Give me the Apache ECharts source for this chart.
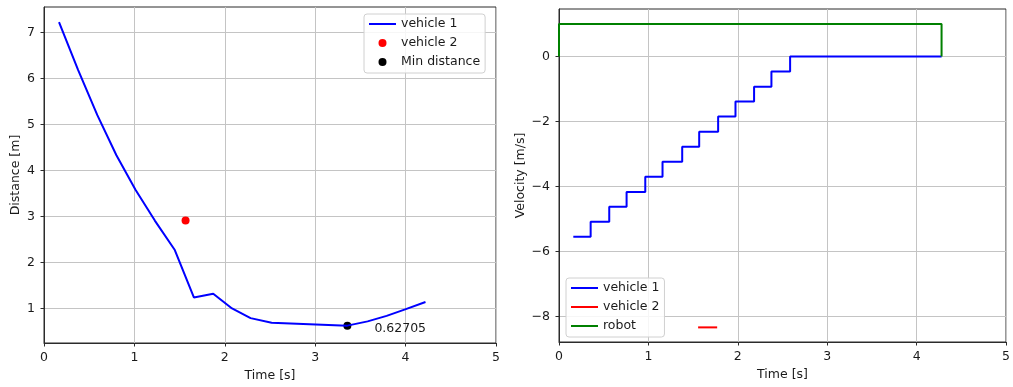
<!DOCTYPE html>
<html>
<head>
<meta charset="utf-8">
<script src="https://cdn.jsdelivr.net/npm/echarts@6/dist/echarts.min.js"></script>
<style>
  html, body { margin: 0; padding: 0; background: #fff; }
  #chart { width: 1013px; height: 387px; }
</style>
</head>
<body>
<div id="chart"></div>
<script>
// Distance between vehicle 1 and the robot over time
const distTime  = [0.166, 0.378, 0.590, 0.801, 1.012, 1.226, 1.447, 1.658, 1.872, 2.080, 2.285, 2.518, 3.356, 3.580, 3.790, 3.995, 4.220];
const distValue = [7.22, 6.18, 5.20, 4.33, 3.58, 2.91, 2.27, 1.24, 1.32, 1.00, 0.79, 0.69, 0.62705, 0.72, 0.84, 0.98, 1.14];
const vehicle2Dist = [1.566, 2.91];
const minDist = [3.356, 0.62705];

// Velocity profiles
const velTime  = [0.160, 0.354, 0.562, 0.756, 0.965, 1.158, 1.378, 1.568, 1.780, 1.974, 2.182, 2.376, 2.585, 2.767, 4.279];
const velValue = [-5.55, -5.09, -4.63, -4.17, -3.70, -3.24, -2.78, -2.32, -1.85, -1.39, -0.93, -0.46, 0, 0, 0];
const vehicle2VelTime  = [1.556, 1.769];
const vehicle2VelValue = [-8.34, -8.34];
const robotVelTime  = [0, 0, 4.279, 4.279];
const robotVelValue = [0, 1, 1, 0];

const xTicks = [0, 1, 2, 3, 4, 5];
const distTicks = [1, 2, 3, 4, 5, 6, 7];
const velTicks = [-8, -6, -4, -2, 0];

const zip = (xs, ys) => xs.map((x, i) => [x, ys[i]]);

const FONT = 'DejaVu Sans';
const FS = 12.5;
const TXT = '#1a1a1a';
const SPINE = '#2b2b2b';
const GRIDC = '#c4c4c4';

function xAxisFor(gridIndex) {
  return {
    gridIndex, type: 'value', min: 0, max: 5, interval: 1,
    name: 'Time [s]', nameLocation: 'middle', nameGap: 25,
    nameTextStyle: { color: TXT, fontSize: FS, fontFamily: FONT },
    axisLine: { show: true, onZero: false, lineStyle: { color: SPINE, width: 1 } },
    axisTick: { show: true, length: 3.5, customValues: xTicks, lineStyle: { color: SPINE } },
    axisLabel: { color: TXT, fontSize: FS, fontFamily: FONT, margin: 8, customValues: xTicks },
    splitLine: { show: true, lineStyle: { color: GRIDC, width: 1 } }
  };
}

function yAxisFor(gridIndex, min, max, ticks, name, gap, minus) {
  return {
    gridIndex, type: 'value', min, max,
    name, nameLocation: 'middle', nameGap: gap,
    nameTextStyle: { color: TXT, fontSize: FS, fontFamily: FONT },
    axisLine: { show: true, onZero: false, lineStyle: { color: SPINE, width: 1 } },
    axisTick: { show: true, length: 3.5, customValues: ticks, lineStyle: { color: SPINE } },
    axisLabel: {
      color: TXT, fontSize: FS, fontFamily: FONT, margin: 9, customValues: ticks,
      formatter: v => minus ? String(v).replace('-', '\u2212') : String(v)
    },
    splitLine: { show: true, lineStyle: { color: GRIDC, width: 1 } }
  };
}

const legendBase = {
  orient: 'vertical',
  itemWidth: 27, itemHeight: 8, itemGap: 5, itemTextGap: 10,
  backgroundColor: 'rgba(255,255,255,0.85)',
  borderColor: '#d0d0d0', borderWidth: 1, borderRadius: 3,
  textStyle: { color: TXT, fontSize: FS, fontFamily: FONT, lineHeight: 14 },
  formatter: n => n.split('|')[0],
  selectedMode: false
};

// line entries show only the stroke, no marker
const lineEntry = name => ({ name, itemStyle: { opacity: 0 } });

const chart = echarts.init(document.getElementById('chart'), null, { renderer: 'canvas' });
chart.setOption({
  animation: false,
  backgroundColor: '#ffffff',
  textStyle: { fontFamily: FONT },
  grid: [
    { left: 44, top: 7, width: 452, height: 336, show: true, borderColor: SPINE, borderWidth: 1, backgroundColor: 'transparent' },
    { left: 559, top: 9, width: 448, height: 333, show: true, borderColor: SPINE, borderWidth: 1, backgroundColor: 'transparent' }
  ],
  xAxis: [xAxisFor(0), xAxisFor(1)],
  yAxis: [
    yAxisFor(0, 0.25, 7.55, distTicks, 'Distance [m]', 22, false),
    yAxisFor(1, -8.79, 1.46, velTicks, 'Velocity [m/s]', 32, true)
  ],
  legend: [
    Object.assign({}, legendBase, {
      left: 364, top: 14, padding: [3, 5, 4, 4],
      data: [lineEntry('vehicle 1'), 'vehicle 2', 'Min distance']
    }),
    Object.assign({}, legendBase, {
      left: 566, top: 278, padding: [3, 5, 4, 4],
      data: [lineEntry('vehicle 1|v'), lineEntry('vehicle 2|v'), lineEntry('robot|v')]
    })
  ],
  series: [
    {
      name: 'vehicle 1', type: 'line', xAxisIndex: 0, yAxisIndex: 0,
      data: zip(distTime, distValue), symbol: 'none',
      lineStyle: { color: '#0000ff', width: 2 }, itemStyle: { color: '#0000ff' }
    },
    {
      name: 'vehicle 2', type: 'scatter', xAxisIndex: 0, yAxisIndex: 0,
      data: [vehicle2Dist], symbol: 'circle', symbolSize: 8,
      itemStyle: { color: '#ff0000', opacity: 1 }
    },
    {
      name: 'Min distance', type: 'scatter', xAxisIndex: 0, yAxisIndex: 0,
      data: [minDist], symbol: 'circle', symbolSize: 8,
      itemStyle: { color: '#000000', opacity: 1 },
      label: {
        show: true, position: 'right', distance: 0, offset: [23, 3],
        color: TXT, fontSize: FS, fontFamily: FONT,
        formatter: p => String(p.value[1])
      }
    },
    {
      name: 'vehicle 1|v', type: 'line', xAxisIndex: 1, yAxisIndex: 1,
      data: zip(velTime, velValue), step: 'end', symbol: 'none',
      lineStyle: { color: '#0000ff', width: 2 }, itemStyle: { color: '#0000ff' }
    },
    {
      name: 'vehicle 2|v', type: 'line', xAxisIndex: 1, yAxisIndex: 1,
      data: zip(vehicle2VelTime, vehicle2VelValue), symbol: 'none',
      lineStyle: { color: '#ff0000', width: 2 }, itemStyle: { color: '#ff0000' }
    },
    {
      name: 'robot|v', type: 'line', xAxisIndex: 1, yAxisIndex: 1,
      data: zip(robotVelTime, robotVelValue), symbol: 'none',
      lineStyle: { color: '#008000', width: 2 }, itemStyle: { color: '#008000' }
    }
  ]
});
</script>
</body>
</html>
